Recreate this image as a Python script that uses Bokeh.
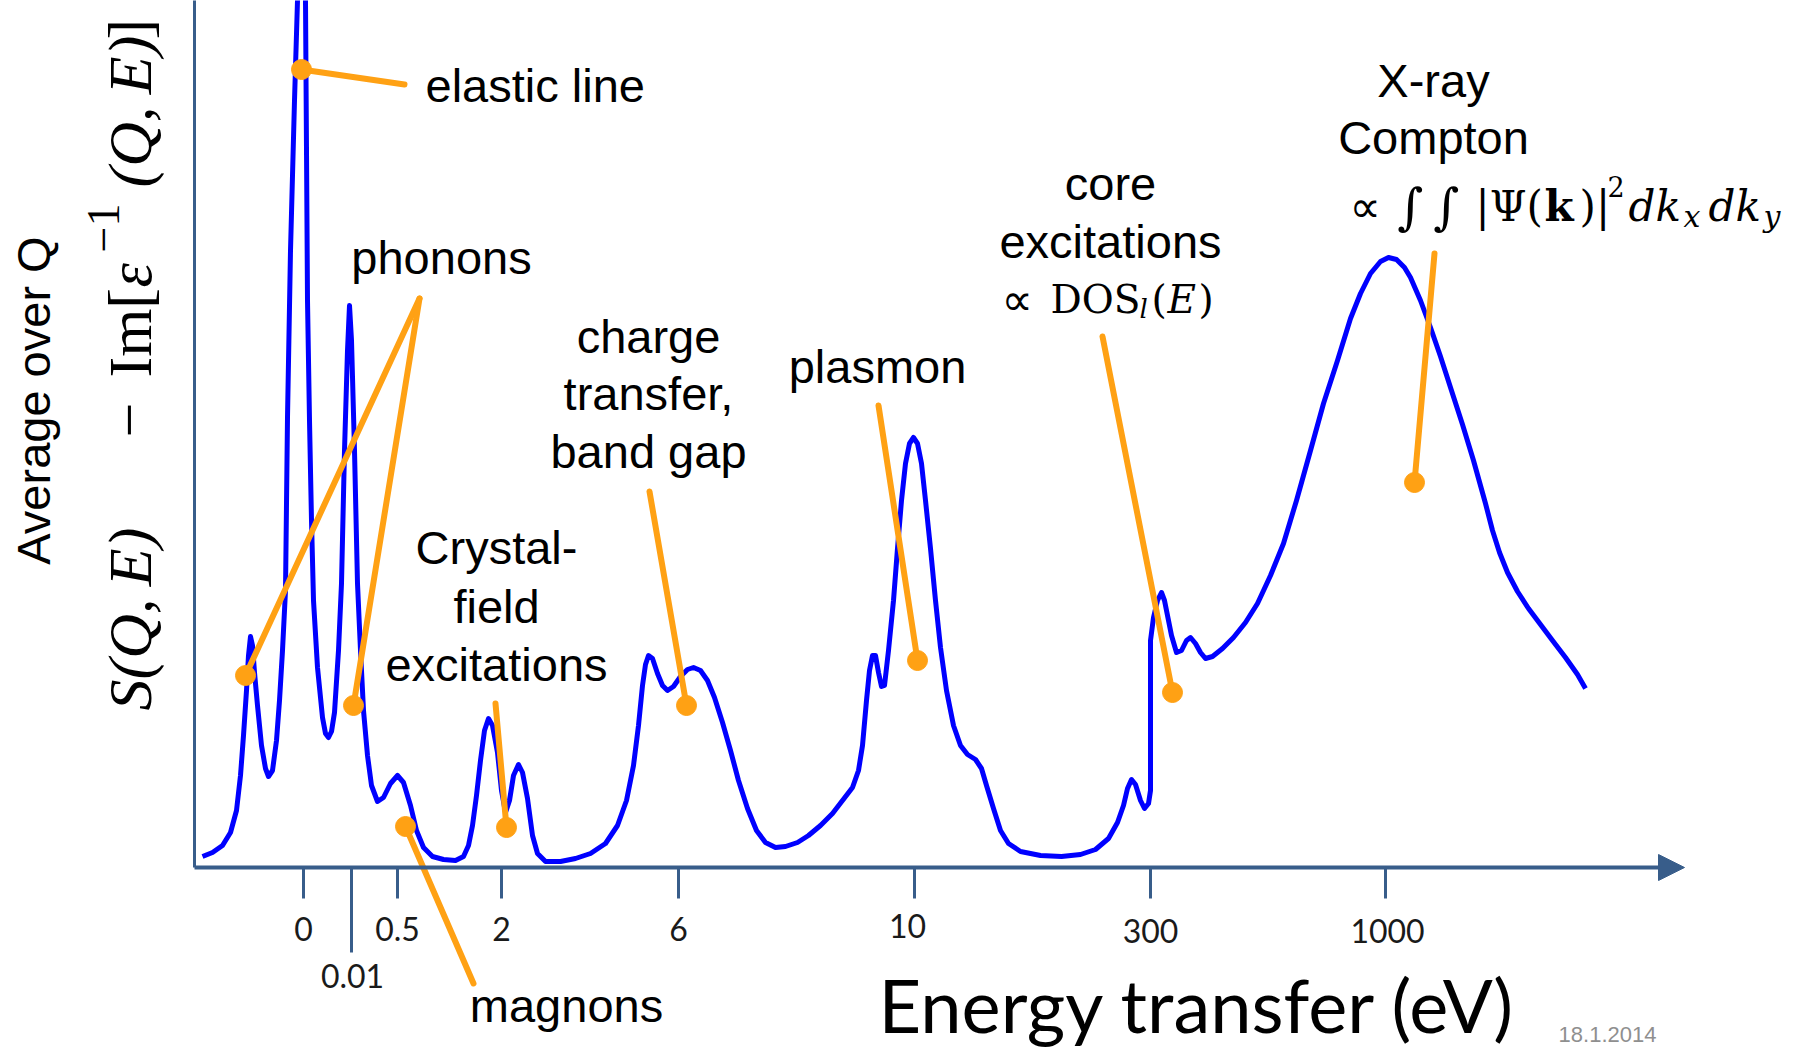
import math
from bokeh.plotting import figure
from bokeh.models import Range1d, Arrow, NormalHead
from bokeh.core.properties import value
from bokeh.embed import file_html
from bokeh.resources import INLINE

# ---------------- data (schematic units: position along energy axis, intensity) -------------
energy_pos = [8, 18, 28, 36, 42, 46, 49, 52, 54, 56, 58, 60, 63, 67, 71, 74, 78, 82, 85, 88, 91,
              93, 96, 100, 103, 107, 111, 112, 113, 115, 117, 119, 123, 128, 131, 134, 137, 140,
              144, 147, 150, 153, 155, 157, 160, 163, 166, 169, 173, 177, 183, 189, 196, 203, 209,
              216, 222, 229, 238, 249, 261, 269, 274, 278, 282, 286, 290, 294, 298, 303, 307, 311,
              315, 319, 324, 328, 333, 338, 343, 351, 366, 381, 396, 411, 423, 432, 439, 444, 448,
              451, 454, 458, 463, 468, 473, 479, 486, 493, 499, 506, 513, 520, 528, 536, 544, 553,
              562, 571, 581, 591, 603, 614, 626, 638, 648, 658, 664, 668, 672, 675, 678, 681, 684,
              687, 690, 694, 699, 703, 707, 711, 715, 719, 723, 727, 731, 736, 741, 746, 752, 759,
              766, 773, 781, 787, 792, 799, 806, 814, 826, 846, 867, 886, 901, 914, 923, 929, 933,
              937, 941, 946, 950, 954, 956, 956, 956, 959, 963, 967, 970, 973, 977, 982, 987, 992,
              996, 1001, 1006, 1011, 1018, 1028, 1039, 1051, 1063, 1076, 1089, 1102, 1116, 1129,
              1143, 1156, 1166, 1176, 1186, 1194, 1202, 1210, 1216, 1226, 1236, 1246, 1256, 1268,
              1279, 1291, 1298, 1305, 1313, 1323, 1334, 1346, 1358, 1371, 1383, 1391]
intensity = [11, 15, 22, 35, 57, 92, 132, 177, 212, 231, 222, 195, 162, 122, 99, 91, 97, 127, 167,
             217, 277, 450, 617, 767, 867, 987, 867, 717, 567, 447, 347, 267, 200, 150, 134, 130,
             136, 155, 217, 284, 417, 517, 562, 527, 417, 284, 217, 157, 112, 82, 66, 70, 84, 92,
             85, 62, 37, 20, 11, 8, 7, 11, 22, 42, 72, 107, 137, 149, 142, 115, 77, 55, 67, 92,
             103, 95, 69, 32, 14, 6, 6, 9, 14, 24, 42, 67, 102, 142, 182, 203, 212, 209, 194, 182,
             177, 181, 191, 198, 200, 197, 187, 170, 145, 117, 87, 59, 37, 25, 20, 21, 25, 32, 42,
             54, 67, 80, 97, 122, 167, 197, 212, 212, 195, 181, 182, 217, 267, 319, 367, 404, 424,
             430, 424, 404, 367, 319, 267, 220, 177, 142, 122, 113, 108, 99, 82, 59, 37, 24, 16,
             12, 11, 13, 18, 29, 45, 62, 79, 88, 83, 67, 59, 64, 77, 150, 227, 250, 267, 275, 267,
             252, 232, 215, 217, 227, 230, 224, 215, 209, 211, 219, 230, 245, 264, 292, 324, 367,
             417, 464, 507, 549, 574, 594, 606, 610, 608, 600, 590, 567, 540, 511, 480, 443, 407,
             364, 337, 315, 295, 276, 259, 243, 227, 210, 193, 179]

tick_pos = [109, 157, 203, 307, 484, 720, 956, 1191]
tick_labels = ["0", "0.01", "0.5", "2", "6", "10", "300", "1000"]

# annotation anchors: (point on curve) and (label end of leader)
dot_x = [107, 51, 159, 312, 211, 492, 723, 978, 1220]
dot_y = [798, 192, 162, 40, 41, 162, 207, 175, 385]
lead_x = [210, 225, 225, 301, 279, 455, 684, 908, 1240]
lead_y = [783, 569, 569, 164, -116, 376, 462, 531, 614]

# ---------------- styling ----------------
ORANGE = "#FFA114"
BLUE = "#0000FF"
AXIS = "#385D8A"
SANS = value("Liberation Sans")
SERIF = value("Liberation Serif")
MATH = value("DejaVu Serif")

p = figure(width=1809, height=1048, x_range=Range1d(-194, 1615), y_range=Range1d(-181, 867),
           output_backend="svg", toolbar_location=None, x_axis_type=None, y_axis_type=None,
           min_border=0)
p.outline_line_color = None
p.background_fill_color = "white"
p.border_fill_color = "white"

# axes (schematic)
p.segment(x0=[0], y0=[0], x1=[0], y1=[870], line_color=AXIS, line_width=3)
p.add_layout(Arrow(end=NormalHead(size=26, fill_color=AXIS, line_color=AXIS),
                   x_start=0, y_start=0, x_end=1490, y_end=0,
                   line_color=AXIS, line_width=4))
tick_len = [31, 85, 31, 31, 31, 31, 31, 31]
p.segment(x0=tick_pos, y0=[0] * len(tick_pos), x1=tick_pos, y1=[-L for L in tick_len],
          line_color=AXIS, line_width=3)
label_dx = [0, 1, 0, 0, 0, -7, 0, 2]
label_y = [-61, -108, -61, -61, -61, -58, -63, -63]
p.text(x=[t + d for t, d in zip(tick_pos, label_dx)], y=label_y, text=tick_labels,
       text_align="center", text_baseline="middle", text_font=value("Lato"),
       text_font_size="32px", text_color="#1a1a1a")

# spectrum
p.line(energy_pos, intensity, line_color=BLUE, line_width=5, line_join="round")

# leaders
p.segment(x0=dot_x, y0=dot_y, x1=lead_x, y1=lead_y, line_color=ORANGE, line_width=6,
          line_cap="round")
p.scatter(x=dot_x, y=dot_y, size=20, fill_color=ORANGE, line_color=ORANGE)

# annotation texts (sans)
ann_text = ["elastic line", "phonons", "charge", "transfer,", "band gap", "plasmon",
            "Crystal-", "field", "excitations", "magnons", "core", "excitations",
            "X-ray", "Compton"]
ann_x = [231, 247, 454, 454, 454, 683, 302, 302, 302, 372, 916, 916, 1239, 1239]
ann_y = [782, 610, 531, 474, 416, 501, 320, 261, 203, -138, 684, 626, 787, 730]
ann_align = ["left"] + ["center"] * 13
p.text(x=ann_x, y=ann_y, text=ann_text, text_align=ann_align, text_baseline="alphabetic",
       text_font=SANS, text_font_size="47px", text_color="black")

# formula: ∝ DOS_l(E)
p.text(x=[807], y=[568], text=["∝"], text_font=value("DejaVu Sans"), text_font_size="44px",
       text_baseline="alphabetic", text_align="left", text_color="black")
p.text(x=[856, 957, 1004], y=[568, 568, 568], text=["DOS", "(", ")"], text_font=MATH,
       text_font_size="39px", text_baseline="alphabetic", text_align="left", text_color="black")
p.text(x=[973], y=[568], text=["E"], text_font=MATH, text_font_style="italic",
       text_font_size="39px", text_baseline="alphabetic", text_align="left", text_color="black")
p.text(x=[945], y=[559], text=["l"], text_font=MATH, text_font_style="italic",
       text_font_size="26px", text_baseline="alphabetic", text_align="left", text_color="black")

# formula: ∝ ∫∫ |Ψ(k)|² dk_x dk_y
p.text(x=[1155], y=[661], text=["∝"], text_font=value("DejaVu Sans"), text_font_size="44px",
       text_baseline="alphabetic", text_align="left", text_color="black")
p.text(x=[1203, 1239], y=[661, 661], text=["∫", "∫"], text_font=MATH, text_font_size="50px",
       text_baseline="alphabetic", text_align="left", text_color="black")
p.text(x=[1281, 1385], y=[661, 661], text=["|Ψ(", ")|"], text_font=MATH,
       text_font_size="42px", text_baseline="alphabetic", text_align="left", text_color="black")
p.text(x=[1350], y=[661], text=["k"], text_font=MATH, text_font_style="bold",
       text_font_size="42px", text_baseline="alphabetic", text_align="left", text_color="black")
p.text(x=[1413], y=[681], text=["2"], text_font=MATH, text_font_size="27px",
       text_baseline="alphabetic", text_align="left", text_color="black")
p.text(x=[1434, 1514], y=[661, 661], text=["dk", "dk"], text_font=MATH,
       text_font_style="italic", text_font_size="42px", text_baseline="alphabetic",
       text_align="left", text_color="black")
p.text(x=[1489, 1569], y=[651, 651], text=["x", "y"], text_font=MATH,
       text_font_style="italic", text_font_size="30px", text_baseline="alphabetic",
       text_align="left", text_color="black")

# y-axis labels (rotated)
p.text(x=[-161], y=[467], text=["Average over Q"], angle=math.pi / 2, text_align="center",
       text_baseline="alphabetic", text_font=SANS, text_font_size="47px", text_color="black")
p.text(x=[-65, -65], y=[157, 680], text=["S(Q,\u2009E)", "(Q,\u2009E)"], angle=math.pi / 2,
       text_align="left", text_baseline="alphabetic", text_font=SERIF, text_font_style="italic",
       text_font_size="62px", text_color="black")
p.text(x=[-65], y=[580], text=["ε"], angle=math.pi / 2, text_align="left",
       text_baseline="alphabetic", text_font=SERIF, text_font_style="italic",
       text_font_size="62px", text_color="black")
p.text(x=[-65, -65, -65], y=[430, 490, 828], text=["−", "Im[", "]"], angle=math.pi / 2,
       text_align="left", text_baseline="alphabetic", text_font=SERIF,
       text_font_size="62px", text_color="black")
p.text(x=[-91], y=[615], text=["−1"], angle=math.pi / 2, text_align="left",
       text_baseline="alphabetic", text_font=SERIF, text_font_size="46px", text_color="black")

# x-axis title and date
p.text(x=[1003], y=[-137], text=["Energy transfer (eV)"], text_align="center",
       text_baseline="alphabetic", text_font=value("Lato"), text_font_size="74px",
       text_color="black")
p.text(x=[1413], y=[-167], text=["18.1.2014"], text_align="center", text_baseline="middle",
       text_font=SANS, text_font_size="22px", text_color="#8f8f8f")

open("out.html", "w").write(file_html(p, INLINE))
